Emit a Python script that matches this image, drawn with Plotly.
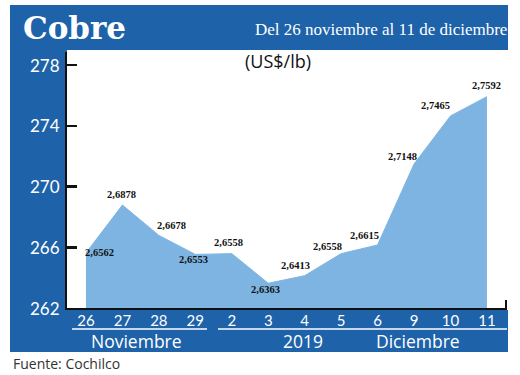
import plotly.graph_objects as go

# ---- data ----
days = ["26", "27", "28", "29", "2", "3", "4", "5", "6", "9", "10", "11"]
price_cents = [265.62, 268.78, 266.78, 265.53, 265.58, 263.63, 264.13,
               265.58, 266.15, 271.48, 274.65, 275.92]
y_ticks = [262, 266, 270, 274, 278]

# label offsets in px (style only)
label_dx = [14, -1, 13, -2, -3, -3, -9, -14, -13, -12, -15, 0]
label_dy = [1, 11, 10, -5, 11, -6, 10, 7, 9, 8, 10, 11]

W = 520
H = 375
BLUE = "#1e62a9"
FILL = "#7db4e1"
SANS = "Lato, 'Open Sans', sans-serif"
OPEN = "'Open Sans', Lato, sans-serif"
SERIF = "'Liberation Serif', 'DejaVu Serif', serif"

def px(x):
    return x / W

def py(y):
    return 1 - y / H

xidx = list(range(len(days)))

fig = go.Figure()
fig.add_trace(go.Scatter(
    x=xidx, y=price_cents, mode="lines", fill="tozeroy",
    line=dict(color=FILL, width=1), fillcolor=FILL, hoverinfo="skip",
    showlegend=False))

annotations = []
for i, v in enumerate(price_cents):
    annotations.append(dict(
        x=i, y=v, xref="x", yref="y", showarrow=False,
        text="<b>" + f"{v/100:.4f}".replace(".", ",") + "</b>",
        font=dict(family=SERIF, size=10.5, color="#111"),
        xshift=label_dx[i], yshift=label_dy[i]))

# y tick labels placed on the y scale, in the left blue band
for t in y_ticks:
    annotations.append(dict(
        x=px(62), y=t, xref="paper", yref="y", xanchor="right",
        yanchor="middle", showarrow=False, text=str(t),
        font=dict(family=SANS, size=17, color="white")))

# header texts
annotations += [
    dict(x=px(21), y=py(28), xref="paper", yref="paper", xanchor="left",
         yanchor="middle", showarrow=False, text="<b>Cobre</b>",
         font=dict(family="'DejaVu Serif', serif", size=31, color="white")),
    dict(x=px(509), y=py(30), xref="paper", yref="paper", xanchor="right",
         yanchor="middle", showarrow=False,
         text="Del 26 noviembre al 11 de diciembre",
         font=dict(family=SERIF, size=17, color="white")),
    dict(x=px(278), y=py(61), xref="paper", yref="paper", xanchor="center",
         yanchor="middle", showarrow=False, text="(US$/lb)",
         font=dict(family=OPEN, size=18, color="#111")),
    dict(x=px(136), y=py(341), xref="paper", yref="paper", xanchor="center",
         yanchor="middle", showarrow=False, text="Noviembre",
         font=dict(family=OPEN, size=17.5, color="white")),
    dict(x=px(303), y=py(341), xref="paper", yref="paper", xanchor="center",
         yanchor="middle", showarrow=False, text="2019",
         font=dict(family=OPEN, size=17.5, color="white")),
    dict(x=px(418), y=py(341), xref="paper", yref="paper", xanchor="center",
         yanchor="middle", showarrow=False, text="Diciembre",
         font=dict(family=OPEN, size=17.5, color="white")),
    dict(x=px(11), y=py(363), xref="paper", yref="paper", xanchor="left",
         yanchor="middle", showarrow=False, text="Fuente: Cochilco",
         font=dict(family=OPEN, size=14, color="#333")),
]

shapes = [
    dict(type="rect", xref="paper", yref="paper", x0=px(10), x1=px(508),
         y0=py(50), y1=py(5), fillcolor=BLUE, line=dict(width=0), layer="below"),
    dict(type="rect", xref="paper", yref="paper", x0=px(10), x1=px(67),
         y0=py(352), y1=py(5), fillcolor=BLUE, line=dict(width=0), layer="below"),
    dict(type="rect", xref="paper", yref="paper", x0=px(10), x1=px(508),
         y0=py(352), y1=py(310), fillcolor=BLUE, line=dict(width=0), layer="below"),
    dict(type="line", xref="paper", yref="paper", x0=px(72), x1=px(207),
         y0=py(329), y1=py(329), line=dict(color="white", width=1.5)),
    dict(type="line", xref="paper", yref="paper", x0=px(218), x1=px(507),
         y0=py(329), y1=py(329), line=dict(color="white", width=1.5)),
    dict(type="line", xref="paper", yref="paper", x0=px(506), x1=px(506),
         y0=py(309), y1=py(300), line=dict(color="#111", width=2)),
]

fig.update_layout(
    width=W, height=H, margin=dict(l=0, r=0, t=0, b=0, pad=0),
    paper_bgcolor="white", plot_bgcolor="white",
    annotations=annotations, shapes=shapes, showlegend=False,
    xaxis=dict(domain=[px(67), px(507)], range=[-0.52, 11.55],
               tickmode="array", tickvals=xidx, ticktext=days,
               showgrid=False, zeroline=False, showline=True,
               linecolor="#111", linewidth=2, ticks="",
               ticklabelstandoff=-2,
               tickfont=dict(family=SANS, size=15, color="white")),
    yaxis=dict(domain=[py(308), py(52)], range=[262, 278.86],
               tickmode="array", tickvals=y_ticks, showticklabels=False,
               showgrid=False, zeroline=False, showline=True,
               linecolor="#111", linewidth=2, ticks="inside", ticklen=10,
               tickwidth=2.5, tickcolor="#111"),
)

fig.write_html(
    "out.html",
    config={"displayModeBar": False, "staticPlot": True},
    post_script=(
        "var s=document.createElement('style');"
        "s.textContent='html,body{margin:0;padding:0;overflow:hidden;}';"
        "document.head.appendChild(s);"
    ),
)
